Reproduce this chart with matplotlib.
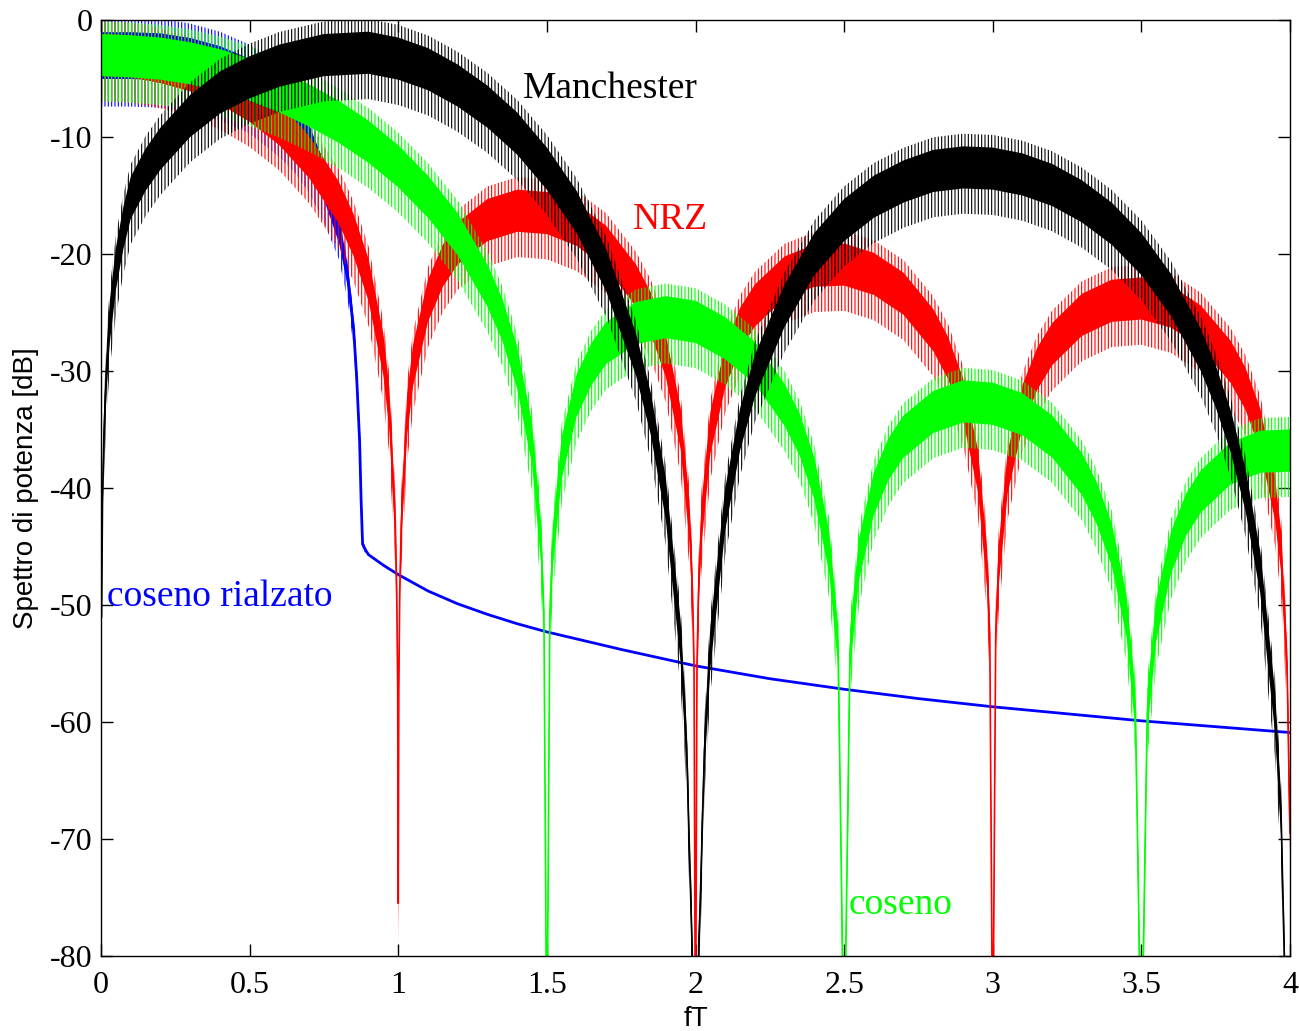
import numpy as np
import matplotlib
matplotlib.use('Agg')
import matplotlib.pyplot as plt
from matplotlib.ticker import FuncFormatter

plt.rcParams['font.family'] = 'Liberation Serif'
plt.rcParams['axes.unicode_minus'] = False
plt.rcParams['hatch.linewidth'] = 0.8

# --- spettri (fT, dB) ---

# coseno rialzato (blu)
rc_f = [0, 0.1, 0.2, 0.3, 0.4, 0.5, 0.6, 0.65, 0.7, 0.75, 0.8, 0.83, 0.85, 0.86,
        0.87, 0.875, 0.88, 0.89, 0.9, 0.95, 1.0, 1.1, 1.2, 1.3, 1.4, 1.5, 1.6,
        1.75, 2.0, 2.25, 2.5, 2.75, 3.0, 3.25, 3.5, 3.75, 4.0]
rc_db = [-3.0, -3.0, -3.1, -3.5, -4.2, -5.3, -7.3, -8.8, -10.8, -13.8, -18.0, -22.0,
         -26.5, -30.5, -36.0, -41.0, -44.8, -45.3, -45.7, -46.6, -47.4, -48.8, -49.9,
         -50.8, -51.6, -52.3, -52.9, -53.8, -55.2, -56.3, -57.2, -58.0, -58.7, -59.3,
         -59.9, -60.4, -60.9]
# dispersione del rumore (dB) per il coseno rialzato
rc_disp = [2.0, 2.0, 2.0, 2.0, 2.0, 2.0, 2.0, 1.9, 1.8, 1.6, 1.1, 0.9, 0.7, 0.6,
           0.5, 0.4, 0.3, 0.1, 0, 0, 0, 0, 0, 0, 0, 0, 0, 0, 0, 0, 0, 0, 0, 0, 0, 0, 0]

# NRZ (rosso)
nrz_f = [0, 0.1, 0.2, 0.3, 0.4, 0.5, 0.6, 0.7, 0.8, 0.85, 0.9, 0.95, 0.97, 0.99, 0.995,
         0.998, 1.0, 1.002, 1.005, 1.01, 1.03, 1.05, 1.1, 1.15, 1.2, 1.3, 1.4, 1.5, 1.6,
         1.7, 1.8, 1.85, 1.9, 1.95, 1.98, 1.99, 1.995, 2.0, 2.005, 2.01, 2.02, 2.05, 2.1,
         2.15, 2.2, 2.3, 2.4, 2.5, 2.6, 2.7, 2.8, 2.85, 2.9, 2.95, 2.98, 2.99, 3.0, 3.01,
         3.02, 3.05, 3.1, 3.15, 3.2, 3.3, 3.4, 3.5, 3.6, 3.7, 3.8, 3.85, 3.9, 3.95, 3.97,
         3.99, 4.0]
nrz_db = [-3.0, -3.1, -3.6, -4.3, -5.4, -6.9, -8.9, -11.7, -15.6, -18.4, -22.2, -28.6,
          -33.2, -42.9, -49.0, -57.0, -75.5, -57.0, -49.0, -43.1, -33.7, -29.5, -24.0,
          -21.0, -19.1, -17.1, -16.3, -16.5, -17.5, -19.4, -22.7, -25.1, -28.7, -34.9,
          -42.9, -49.0, -55.0, -90.0, -55.0, -49.0, -43.1, -35.3, -29.6, -26.4, -24.4,
          -22.0, -21.0, -20.9, -21.7, -23.4, -26.5, -28.9, -32.4, -38.5, -46.5, -52.5,
          -90.0, -52.5, -46.6, -38.7, -33.0, -29.8, -27.7, -25.2, -24.0, -23.8, -24.5,
          -26.2, -29.2, -31.5, -35.0, -41.0, -45.4, -55.0, -69.5]

# coseno (verde)
cos_f = [0, 0.1, 0.2, 0.3, 0.4, 0.5, 0.6, 0.7, 0.8, 0.9, 1.0, 1.1, 1.2, 1.3, 1.35, 1.4,
         1.45, 1.48, 1.49, 1.5, 1.51, 1.52, 1.55, 1.6, 1.65, 1.7, 1.8, 1.9, 2.0, 2.1, 2.2,
         2.3, 2.35, 2.4, 2.45, 2.48, 2.5, 2.52, 2.55, 2.6, 2.65, 2.7, 2.8, 2.9, 3.0, 3.1,
         3.2, 3.3, 3.35, 3.4, 3.45, 3.48, 3.5, 3.52, 3.55, 3.6, 3.65, 3.7, 3.8, 3.9, 4.0]
cos_db = [-3.0, -3.1, -3.3, -3.7, -4.3, -5.1, -6.1, -7.3, -8.7, -10.4, -12.5, -15.1,
          -18.3, -22.7, -25.6, -29.7, -36.2, -44.5, -50.6, -90.0, -50.8, -45.0, -37.4,
          -32.1, -29.4, -27.6, -25.9, -25.4, -25.8, -27.2, -29.3, -32.9, -35.4, -39.2,
          -45.5, -53.6, -90.0, -53.8, -46.1, -40.5, -37.5, -35.6, -33.5, -32.6, -32.8,
          -33.7, -35.6, -38.8, -41.3, -44.8, -50.9, -59.0, -90.0, -59.1, -51.3, -45.5,
          -42.3, -40.3, -37.9, -36.9, -36.8]

# Manchester (nero)
man_f = [0.002, 0.005, 0.01, 0.02, 0.03, 0.05, 0.075, 0.1, 0.15, 0.2, 0.3, 0.4, 0.5,
         0.6, 0.75, 0.9, 1.0, 1.1, 1.2, 1.3, 1.4, 1.5, 1.6, 1.7, 1.8, 1.85, 1.9, 1.95,
         1.97, 2.0, 2.03, 2.05, 2.1, 2.15, 2.2, 2.3, 2.4, 2.5, 2.6, 2.7, 2.8, 2.9, 3.0,
         3.1, 3.2, 3.3, 3.4, 3.5, 3.6, 3.7, 3.75, 3.8, 3.85, 3.9, 3.95, 3.97, 3.99]
man_db = [-51.0, -41.3, -35.3, -29.3, -25.7, -21.3, -17.8, -15.2, -12.8, -11.0, -8.2,
          -6.2, -4.9, -3.9, -3.0, -2.8, -3.3, -4.2, -5.6, -7.4, -9.7, -12.7, -16.4,
          -21.4, -28.6, -33.7, -40.9, -53.1, -62.0, -90.0, -62.5, -53.6, -41.8, -35.0,
          -30.4, -24.4, -20.0, -17.1, -15.1, -13.8, -12.9, -12.6, -12.7, -13.2, -14.1,
          -15.5, -17.4, -20.0, -23.5, -28.2, -31.3, -35.1, -40.1, -47.2, -59.2, -68.0,
          -90.0]

x_ticks = [0, 0.5, 1, 1.5, 2, 2.5, 3, 3.5, 4]
y_ticks = [-80, -70, -60, -50, -40, -30, -20, -10, 0]


def spettro(ax, f, db, colore, disp, z, lw=1.2):
    f = np.asarray(f)
    db = np.asarray(db)
    disp = np.asarray(disp, dtype=float) * np.ones_like(db)
    # linea centrale (si vede solo negli zeri)
    ax.plot(f, db, color=colore, lw=lw, zorder=z)
    # nucleo del rumore
    ax.fill_between(f, db - disp, db + disp, color=colore, lw=0, zorder=z)
    # picchi del rumore (tratteggio verticale)
    ax.fill_between(f, db - 2.2 * disp, db + 1.6 * disp, facecolor='none',
                    edgecolor=colore, hatch='|||||', lw=0, zorder=z)


fig = plt.figure(figsize=(12.99, 10.31), dpi=100)
ax = fig.add_axes([101 / 1299, 75 / 1031, 1189 / 1299, 936 / 1031])

spettro(ax, rc_f, rc_db, '#0000ff', rc_disp, 2, lw=2.0)
spettro(ax, nrz_f, nrz_db, '#ff0000', 1.8, 3)
spettro(ax, cos_f, cos_db, '#00ff00', 1.8, 4)
spettro(ax, man_f, man_db, '#000000', 1.8, 5)

ax.text(1.419, -6.64, 'Manchester', color='black', fontsize=27, va='baseline', zorder=6)
ax.text(1.79, -17.9, 'NRZ', color='#ff0000', fontsize=27, va='baseline', zorder=6)
ax.text(0.019, -50.1, 'coseno rialzato', color='#0000ff', fontsize=27, va='baseline', zorder=6)
ax.text(2.516, -76.4, 'coseno', color='#00ff00', fontsize=27, va='baseline', zorder=6)

ax.set_xlim(0, 4)
ax.set_ylim(-80, 0)
ax.set_xticks(x_ticks)
ax.set_yticks(y_ticks)
fmt = FuncFormatter(lambda v, p: '%g' % v)
ax.xaxis.set_major_formatter(fmt)
ax.yaxis.set_major_formatter(fmt)
ax.tick_params(direction='in', length=8.5, width=1, top=True, right=True, labelsize=23)
ax.tick_params(axis='x', pad=11)
ax.tick_params(axis='y', pad=6)
for s in ax.spines.values():
    s.set_linewidth(1.0)
    s.set_zorder(7)

ax.set_xlabel('fT', fontsize=20, family='Liberation Sans')
ax.set_ylabel('Spettro di potenza [dB]', fontsize=20, family='Liberation Sans')
ax.xaxis.set_label_coords(0.5, -0.053)
ax.yaxis.set_label_coords(-0.052, 0.5)

fig.savefig('out.png', dpi=100)
